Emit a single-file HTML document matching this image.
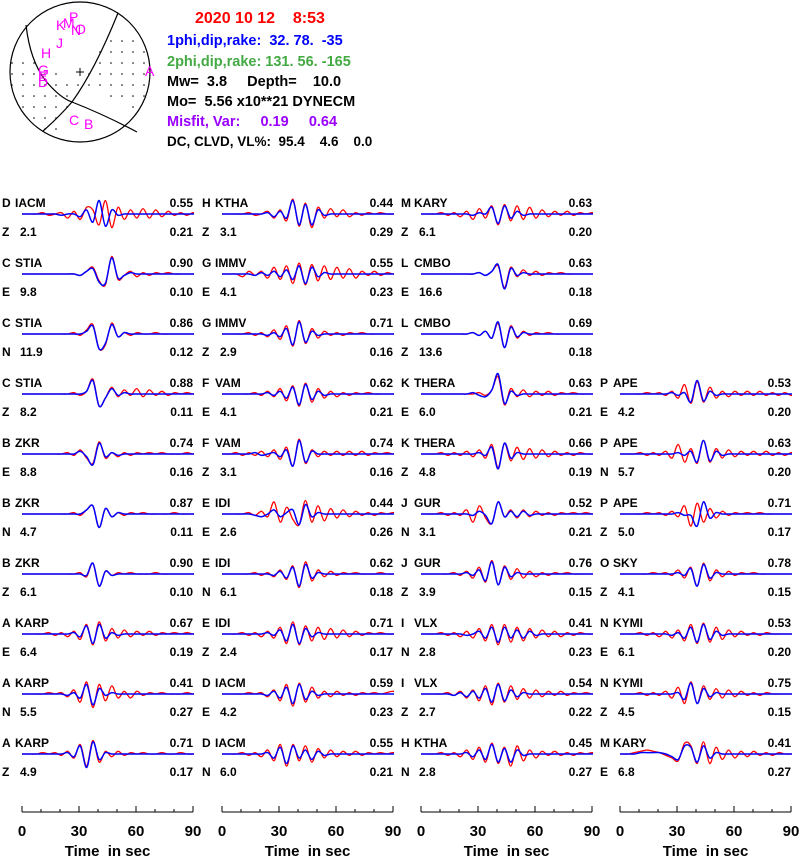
<!DOCTYPE html>
<html><head><meta charset="utf-8">
<style>
body{margin:0;background:#fff;}
svg{display:block;font-family:"Liberation Sans",Arial,sans-serif;}
.l{font-size:12px;font-weight:bold;fill:#000;}
</style></head>
<body>
<svg id="chart" width="800" height="856" viewBox="0 0 800 856">
<defs>
  <clipPath id="bc"><circle cx="80" cy="72" r="70"/></clipPath>
  <clipPath id="cc0"><rect x="22" y="150" width="172" height="640"/></clipPath>
  <clipPath id="cc1"><rect x="222" y="150" width="172" height="640"/></clipPath>
  <clipPath id="cc2"><rect x="421" y="150" width="172" height="640"/></clipPath>
  <clipPath id="cc3"><rect x="620" y="150" width="172" height="640"/></clipPath>
</defs>
<g>
  <g id="dots" clip-path="url(#bc)"></g>
  <circle cx="80" cy="72" r="70" fill="none" stroke="#000" stroke-width="1.2"/>
  <path d="M118,13 Q95,70 72,102 Q58,118 43,131" fill="none" stroke="#000" stroke-width="1.2"/>
  <path d="M26,25 Q30,60 45,80 Q60,98 72,102 Q105,115 137,132" fill="none" stroke="#000" stroke-width="1.2"/>
  <line x1="76" y1="72" x2="84" y2="72" stroke="#000"/><line x1="80" y1="68" x2="80" y2="76" stroke="#000"/>
  <g font-size="14" fill="#ff00ff">
    <text x="56" y="30">K</text><text x="63" y="28">M</text><text x="69" y="22">P</text><text x="71" y="35">N</text><text x="75" y="34">O</text>
    <text x="56" y="48">J</text><text x="41" y="58">H</text><text x="38" y="75">G</text><text x="38" y="81">E</text><text x="38" y="87">D</text>
    <text x="145" y="76">A</text><text x="69" y="125">C</text><text x="84" y="129">B</text>
  </g>
</g>
<g font-size="14.5" font-weight="bold">
  <text x="195" y="23" fill="#ff0000" font-size="16">2020 10 12&#160;&#160;&#160; 8:53</text>
  <text x="167" y="45" fill="#0000ff">1phi,dip,rake:&#160; 32. 78.&#160; -35</text>
  <text x="167" y="66" fill="#44aa44">2phi,dip,rake: 131. 56. -165</text>
  <text x="167" y="86" fill="#000">Mw=&#160; 3.8&#160;&#160;&#160;&#160; Depth=&#160;&#160;&#160; 10.0</text>
  <text x="167" y="106" fill="#000">Mo=&#160; 5.56 x10**21 DYNECM</text>
  <text x="167" y="126" fill="#9900ff">Misfit, Var:&#160;&#160;&#160;&#160; 0.19&#160;&#160;&#160;&#160; 0.64</text>
  <text x="167" y="146" fill="#000" font-size="13.5">DC, CLVD, VL%:&#160; 95.4&#160;&#160;&#160; 4.6&#160;&#160;&#160; 0.0</text>
</g>
<g id="panels"></g>
<g id="axes"></g>
</svg>
<script>
// panel metadata: [col,row,letter,station,comp,amp,corr,vr]
const meta=[
[0,0,"D","IACM","Z","2.1","0.55","0.21"],[0,1,"C","STIA","E","9.8","0.90","0.10"],[0,2,"C","STIA","N","11.9","0.86","0.12"],[0,3,"C","STIA","Z","8.2","0.88","0.11"],[0,4,"B","ZKR","E","8.8","0.74","0.16"],[0,5,"B","ZKR","N","4.7","0.87","0.11"],[0,6,"B","ZKR","Z","6.1","0.90","0.10"],[0,7,"A","KARP","E","6.4","0.67","0.19"],[0,8,"A","KARP","N","5.5","0.41","0.27"],[0,9,"A","KARP","Z","4.9","0.71","0.17"],
[1,0,"H","KTHA","Z","3.1","0.44","0.29"],[1,1,"G","IMMV","E","4.1","0.55","0.23"],[1,2,"G","IMMV","Z","2.9","0.71","0.16"],[1,3,"F","VAM","E","4.1","0.62","0.21"],[1,4,"F","VAM","Z","3.1","0.74","0.16"],[1,5,"E","IDI","E","2.6","0.44","0.26"],[1,6,"E","IDI","N","6.1","0.62","0.18"],[1,7,"E","IDI","Z","2.4","0.71","0.17"],[1,8,"D","IACM","E","4.2","0.59","0.23"],[1,9,"D","IACM","N","6.0","0.55","0.21"],
[2,0,"M","KARY","Z","6.1","0.63","0.20"],[2,1,"L","CMBO","E","16.6","0.63","0.18"],[2,2,"L","CMBO","Z","13.6","0.69","0.18"],[2,3,"K","THERA","E","6.0","0.63","0.21"],[2,4,"K","THERA","Z","4.8","0.66","0.19"],[2,5,"J","GUR","N","3.1","0.52","0.21"],[2,6,"J","GUR","Z","3.9","0.76","0.15"],[2,7,"I","VLX","N","2.8","0.41","0.23"],[2,8,"I","VLX","Z","2.7","0.54","0.22"],[2,9,"H","KTHA","N","2.8","0.45","0.27"],
[3,3,"P","APE","E","4.2","0.53","0.20"],[3,4,"P","APE","N","5.7","0.63","0.20"],[3,5,"P","APE","Z","5.0","0.71","0.17"],[3,6,"O","SKY","Z","4.1","0.78","0.15"],[3,7,"N","KYMI","E","6.1","0.53","0.20"],[3,8,"N","KYMI","Z","4.5","0.75","0.15"],[3,9,"M","KARY","E","6.8","0.41","0.27"]
];
// observed (red) waveforms, regular samples (relative amplitude)
const obs=[
[0,0,0,1,-1,0,1,-3,2,-4,5,3,-8,10,-10,5,-4,3,-3,4,-3,3,-2,2,-1,1,-1,1,0,1,0],
[0,0,0,0,0,0,0,0,0,-1,2,5,-5,-8,13,-4,-1,2,-2,1,-1,1,0,1,0,0,0,0,0,1,0],
[0,0,0,0,0,0,0,0,1,-1,3,7,-11,-8,8,-2,1,-1,1,0,0,1,0,0,0,0,0,0,0,0,0],
[0,0,0,0,0,0,0,0,1,-1,2,11,-9,-3,5,-2,3,-1,4,-2,3,-1,2,-1,1,0,1,0,0,0,0],
[0,0,0,0,0,0,0,1,-1,3,-3,-7,9,-3,1,-2,1,-1,1,0,1,0,1,0,0,0,1,0,0,0,0],
[0,0,0,0,0,0,0,0,1,-1,3,6,-10,4,-2,1,-1,1,0,1,0,0,0,0,1,0,0,0,0,0,0],
[0,0,0,0,0,0,0,0,0,1,-2,8,-9,2,-1,1,0,1,0,0,0,1,0,0,0,0,0,0,0,0,0],
[0,0,0,0,1,-1,1,-2,2,-4,7,-8,9,-5,4,-3,3,-2,2,-1,2,-1,1,0,1,0,1,0,0,0,0],
[0,0,0,0,1,0,1,-2,3,-6,9,-10,7,-5,6,-3,2,-3,2,-1,1,0,1,0,0,0,1,0,0,0,0],
[0,0,0,1,0,1,-1,2,-3,7,-9,10,-6,2,-2,2,-1,1,0,1,0,0,1,0,0,1,0,0,0,0,0],
[0,0,0,0,1,-1,0,2,-3,3,-5,11,-9,8,-10,5,-3,4,-2,3,-2,1,-1,1,0,1,0,0,0,0,0],
[0,0,0,-2,2,-1,2,-3,5,-4,6,-7,8,-8,7,-5,6,-4,5,-3,4,-3,2,-1,2,-1,1,0,1,0,0],
[0,0,0,0,1,-1,1,-2,3,-4,6,-9,10,-7,4,-3,2,-1,1,-1,1,0,1,0,0,0,0,0,0,0,0],
[0,0,0,0,0,1,-1,2,-2,4,-5,6,-9,8,-6,4,-3,2,-2,1,-1,1,0,1,0,0,0,0,0,0,0],
[0,0,1,-1,1,-1,2,-2,3,-4,5,-9,11,-7,3,-2,2,-1,2,-1,2,-1,2,-1,1,0,1,0,0,0,0],
[0,0,0,0,1,-1,2,-2,9,-6,5,-4,-8,10,-6,6,-5,4,-3,3,-2,2,-1,1,-1,1,0,1,0,0,0],
[0,0,0,0,0,1,-1,1,-2,3,-4,6,-10,9,-5,3,-2,2,-1,1,0,1,0,0,0,1,0,0,0,0,0],
[0,0,0,1,-1,1,-2,2,-3,5,-7,9,-8,6,-5,5,-4,4,-3,3,-2,2,-1,1,0,1,0,0,0,0,0],
[0,0,0,0,1,0,1,-2,3,-5,7,-9,8,-6,5,-3,2,-2,2,-1,1,-1,1,0,1,0,1,2,0,0,0],
[0,0,0,1,-1,1,-2,3,-5,7,-9,7,-5,6,-6,4,-3,3,-2,2,-1,2,-1,1,0,1,0,1,-1,0,0],
[0,0,0,1,-1,1,-2,2,-4,4,-3,6,-8,7,-5,6,-4,5,-3,3,-2,2,-1,2,-1,1,0,1,0,0,0],
[0,0,0,0,0,0,0,0,0,1,-1,2,6,-10,5,-2,3,-1,2,-1,1,0,1,0,0,0,0,0,0,0,0],
[0,0,0,0,0,0,0,0,1,-1,2,-3,8,-10,6,-3,2,-1,1,0,1,0,0,0,0,0,0,0,0,0,0],
[0,0,0,0,0,0,0,0,0,1,-1,3,13,-8,4,-2,3,-2,2,-1,2,-1,1,0,1,0,0,0,0,0,0],
[0,0,0,1,-1,1,-1,2,-2,3,-3,7,-10,8,-5,5,-4,4,-3,3,-2,2,-1,1,-1,1,0,0,0,0,0],
[0,0,0,1,-1,1,-1,3,-6,6,-3,-7,9,-2,3,-3,3,-2,2,-1,1,-1,1,0,1,0,1,0,1,0,0],
[0,0,0,0,0,1,-1,2,-3,5,-6,10,-8,6,-4,4,-3,2,-2,1,-1,1,0,1,0,0,0,0,0,0,0],
[0,0,0,1,-1,1,-2,2,-3,4,-5,7,-8,7,-6,5,-5,4,-3,3,-2,2,-2,1,-1,1,0,0,0,0,0],
[0,0,0,0,1,-1,2,-3,3,-5,6,-8,8,-6,6,-4,4,-3,3,-2,2,-1,2,-1,1,0,1,0,0,0,0],
[0,0,0,1,-1,1,-2,3,-4,5,-6,8,-7,5,-9,6,-5,3,-3,2,-1,2,-1,1,-1,1,0,1,0,0,0],
[0,0,0,0,1,0,1,-1,2,-3,7,-7,9,-6,5,-3,2,-2,2,-1,2,-1,2,-1,1,-1,1,-1,0,-1,0],
[0,0,0,1,-1,1,-1,2,-3,7,-6,4,-7,10,-6,4,-3,3,-2,2,-1,2,-1,2,-1,1,-1,1,0,0,0],
[0,0,0,0,1,0,1,-1,2,-2,6,-9,8,-6,4,-3,2,-1,1,0,1,0,1,0,0,0,0,0,0,0,0],
[0,0,0,0,0,1,0,1,-1,3,-3,5,-9,8,-5,3,-2,2,-1,1,0,1,0,0,0,0,0,0,0,0,0],
[0,0,0,1,-1,1,-2,2,-3,3,-5,7,-7,8,-6,5,-4,3,-2,2,-1,1,-1,1,0,0,0,0,0,0,0],
[0,0,0,1,-1,1,-1,2,-3,5,-7,9,-7,6,-4,4,-3,3,-2,2,-1,1,-1,1,0,0,0,0,0,0,0],
[0,0,1,2,3,2,1,-1,-3,-5,8,6,-7,9,-7,5,-4,3,-3,2,-2,2,-1,1,-1,1,0,0,0,0,0]
];
// synthetic (blue) waveforms
const syn=[
[0,0,0,0,0,0,-1,0,0,-2,3,-6,10,-9,3,-1,0,0,0,0,0,0,0,0,0,0,0,0,0,0,0],
[0,0,0,0,0,0,0,0,0,-1,2,4,-6,-7,12,-3,-1,1,0,0,0,0,0,0,0,0,0,0,0,0,0],
[0,0,0,0,0,0,0,0,0,0,2,6,-11,-7,7,-2,1,0,0,0,0,0,0,0,0,0,0,0,0,0,0],
[0,0,0,0,0,0,0,0,0,0,2,10,-9,-3,4,-1,1,0,0,0,0,0,0,0,0,0,0,0,0,0,0],
[0,0,0,0,0,0,0,0,0,2,-2,-8,8,-2,1,-1,0,0,0,0,0,0,0,0,0,0,0,0,0,0,0],
[0,0,0,0,0,0,0,0,0,0,3,6,-10,4,-2,1,0,0,0,0,0,0,0,0,0,0,0,0,0,0,0],
[0,0,0,0,0,0,0,0,0,0,-1,8,-9,2,-1,0,0,0,0,0,0,0,0,0,0,0,0,0,0,0,0],
[0,0,0,0,0,0,0,0,1,-2,6,-7,7,-3,1,-1,0,0,0,0,0,0,0,0,0,0,0,0,0,0,0],
[0,0,0,0,0,0,0,-1,1,-3,7,-8,4,-1,1,0,0,0,0,0,0,0,0,0,0,0,0,0,0,0,0],
[0,0,0,0,0,0,0,1,-2,6,-10,9,-4,1,0,0,0,0,0,0,0,0,0,0,0,0,0,0,0,0,0],
[0,0,0,0,0,0,0,1,-2,2,-3,10,-8,7,-8,3,-1,0,0,0,0,0,0,0,0,0,0,0,0,0,0],
[0,0,0,0,0,-1,1,-1,2,-2,3,-4,6,-7,5,-2,1,0,0,0,0,0,0,0,0,0,0,0,0,0,0],
[0,0,0,0,0,0,0,-1,1,-2,4,-8,9,-6,2,-1,0,0,0,0,0,0,0,0,0,0,0,0,0,0,0],
[0,0,0,0,0,0,0,1,-1,2,-3,5,-8,7,-4,2,-1,0,0,0,0,0,0,0,0,0,0,0,0,0,0],
[0,0,0,0,0,1,-1,0,1,-2,3,-9,10,-6,2,0,0,0,0,0,0,0,0,0,0,0,0,0,0,0,0],
[0,0,0,0,0,-1,-2,0,3,-2,1,3,-8,7,-2,1,0,0,0,0,0,0,0,0,0,0,0,0,0,0,0],
[0,0,0,0,0,0,0,0,-1,2,-3,5,-9,7,-3,1,0,0,0,0,0,0,0,0,0,0,0,0,0,0,0],
[0,0,0,0,0,0,0,1,-1,3,-5,7,-7,4,-2,1,0,0,0,0,0,0,0,0,0,0,0,0,0,0,0],
[0,0,0,0,0,0,0,-1,2,-3,5,-7,7,-4,2,-1,0,0,0,0,0,0,0,0,0,0,0,0,0,0,0],
[0,0,0,0,0,0,0,1,-3,5,-7,6,-3,3,-4,2,-1,0,0,0,0,0,0,0,0,0,0,0,0,0,0],
[0,0,0,0,0,0,0,0,-1,1,0,5,-7,6,-3,2,-1,0,0,0,0,0,0,0,0,0,0,0,0,0,0],
[0,0,0,0,0,0,0,0,0,1,-1,2,7,-11,4,-1,1,0,0,0,0,0,0,0,0,0,0,0,0,0,0],
[0,0,0,0,0,0,0,0,1,-1,2,-3,9,-10,5,-2,1,0,0,0,0,0,0,0,0,0,0,0,0,0,0],
[0,0,0,0,0,0,0,0,1,-1,-2,3,15,-7,2,-1,0,0,0,0,0,0,0,0,0,0,0,0,0,0,0],
[0,0,0,0,0,0,0,0,0,1,-1,5,-11,8,-3,1,0,0,0,0,0,0,0,0,0,0,0,0,0,0,0],
[0,0,0,0,0,0,0,0,-1,2,-1,-7,9,-2,2,-2,2,-1,0,0,0,0,0,0,0,0,0,0,0,0,0],
[0,0,0,0,0,0,0,1,-1,3,-5,9,-8,5,-2,1,0,0,0,0,0,0,0,0,0,0,0,0,0,0,0],
[0,0,0,0,0,0,0,-1,0,2,-3,5,-6,5,-3,3,-3,2,-1,0,0,0,0,0,0,0,0,0,0,0,0],
[0,0,0,0,0,-1,1,-2,2,-3,4,-6,7,-5,3,-2,1,0,0,0,0,0,0,0,0,0,0,0,0,0,0],
[0,0,0,0,0,0,0,1,-2,3,-4,7,-6,4,-6,3,-1,0,0,0,0,0,0,0,0,0,0,0,0,0,0],
[0,0,0,0,0,0,0,0,1,-1,1,-6,10,-5,2,-1,0,0,0,0,0,0,0,0,0,0,0,0,0,0,0],
[0,0,0,0,0,0,0,0,0,1,-1,2,-6,10,-5,2,-1,0,0,0,0,0,0,0,0,0,0,0,0,0,0],
[0,0,0,0,0,0,0,0,0,1,-1,-1,-9,9,-3,1,0,0,0,0,0,0,0,0,0,0,0,0,0,0,0],
[0,0,0,0,0,0,0,0,0,1,-1,4,-9,7,-3,1,0,0,0,0,0,0,0,0,0,0,0,0,0,0,0],
[0,0,0,0,0,0,0,0,-1,1,-3,5,-6,7,-4,2,-1,0,0,0,0,0,0,0,0,0,0,0,0,0,0],
[0,0,0,0,0,0,0,0,0,1,-4,8,-7,4,-2,1,0,0,0,0,0,0,0,0,0,0,0,0,0,0,0],
[0,0,0,1,1,1,1,0,-2,-4,6,5,-6,6,-3,1,0,0,0,0,0,0,0,0,0,0,0,0,0,0,0]
];
const tickLabels=["0","30","60","90"];
const tMax=90, dt=3.3, tOff=1, ampScale=1.35;
const colX=[22,222,421,620], panelW=171, row0=214, rowH=60;
const NS="http://www.w3.org/2000/svg";
function xs(c,t){return colX[c]+t/tMax*panelW;}
function ys(r,v){return row0+r*rowH-v*ampScale;}
function mk(tag,attrs,parent){const e=document.createElementNS(NS,tag);for(const k in attrs)e.setAttribute(k,attrs[k]);parent.appendChild(e);return e;}
function pathFor(c,r,arr){
  const p=arr.map((v,i)=>[xs(c,i*dt+tOff),ys(r,v)]);
  p.unshift([xs(c,0),ys(r,0)]);
  let d="M"+p[0][0].toFixed(1)+","+p[0][1].toFixed(1);
  for(let i=0;i<p.length-1;i++){
    const p0=p[Math.max(0,i-1)],p1=p[i],p2=p[i+1],p3=p[Math.min(p.length-1,i+2)];
    const c1=[p1[0]+(p2[0]-p0[0])/6,p1[1]+(p2[1]-p0[1])/6],c2=[p2[0]-(p3[0]-p1[0])/6,p2[1]-(p3[1]-p1[1])/6];
    d+="C"+c1[0].toFixed(1)+","+c1[1].toFixed(1)+" "+c2[0].toFixed(1)+","+c2[1].toFixed(1)+" "+p2[0].toFixed(1)+","+p2[1].toFixed(1);
  }
  return d;
}
const panels=document.getElementById("panels");
meta.forEach((m,i)=>{
  const [c,r,L,st,cmp,amp,cor,vr]=m;
  const g=mk("g",{},panels);
  
  
  const x0=colX[c], yb=row0+r*rowH;
  const texts=[[x0-20,yb-7,L,"start"],[x0-7,yb-7,st,"start"],[x0+panelW,yb-7,cor,"end"],[x0-20,yb+22,cmp,"start"],[x0-2,yb+22,amp,"start"],[x0+panelW,yb+22,vr,"end"]];
  texts.forEach(t=>{const e=mk("text",{x:t[0],y:t[1],"text-anchor":t[3],class:"l"},g);e.textContent=t[2];});
  const tg=mk("g",{"clip-path":"url(#cc"+c+")"},g);
  const red=mk("path",{d:pathFor(c,r,obs[i]),fill:"none",stroke:"#ff0000","stroke-width":"1.3"},tg);
  
  
  const blue=mk("path",{d:pathFor(c,r,syn[i]),fill:"none",stroke:"#0000ff","stroke-width":"1.5"},tg);
  
  
});
const axes=document.getElementById("axes");
for(let c=0;c<4;c++){
  const g=mk("g",{},axes);
  
  
  mk("line",{x1:xs(c,0),x2:xs(c,90),y1:812,y2:812,stroke:"#000"},g);
  for(let t=0;t<=90;t+=10){const big=t%30===0;mk("line",{x1:xs(c,t),x2:xs(c,t),y1:big?806:809,y2:812,stroke:"#000"},g);}
  tickLabels.forEach(s=>{const e=mk("text",{x:xs(c,+s),y:836,"text-anchor":"middle","font-size":"15","font-weight":"bold"},g);e.textContent=s;});
  const tt=mk("text",{x:xs(c,45),y:856,"text-anchor":"middle","font-size":"15","font-weight":"bold"},g);
  tt.textContent="Time\u00a0 in sec";
}
// beachball dots (compressional quadrants)
const dots=document.getElementById("dots");
for(let y=8;y<142;y+=11)for(let x=12;x<150;x+=11){
  const p1right = (x - (118 - (y-13)*0.52)) > 0;
  const p2below = y > (25 + (x-26)*0.85) && y > 80 + (x-72)*0.45;
  if((p1right && !p2below && y>30) || (!p1right && p2below)) mk("circle",{cx:x,cy:y,r:0.8,fill:"#000"},dots);
}
</script>
</body></html>
